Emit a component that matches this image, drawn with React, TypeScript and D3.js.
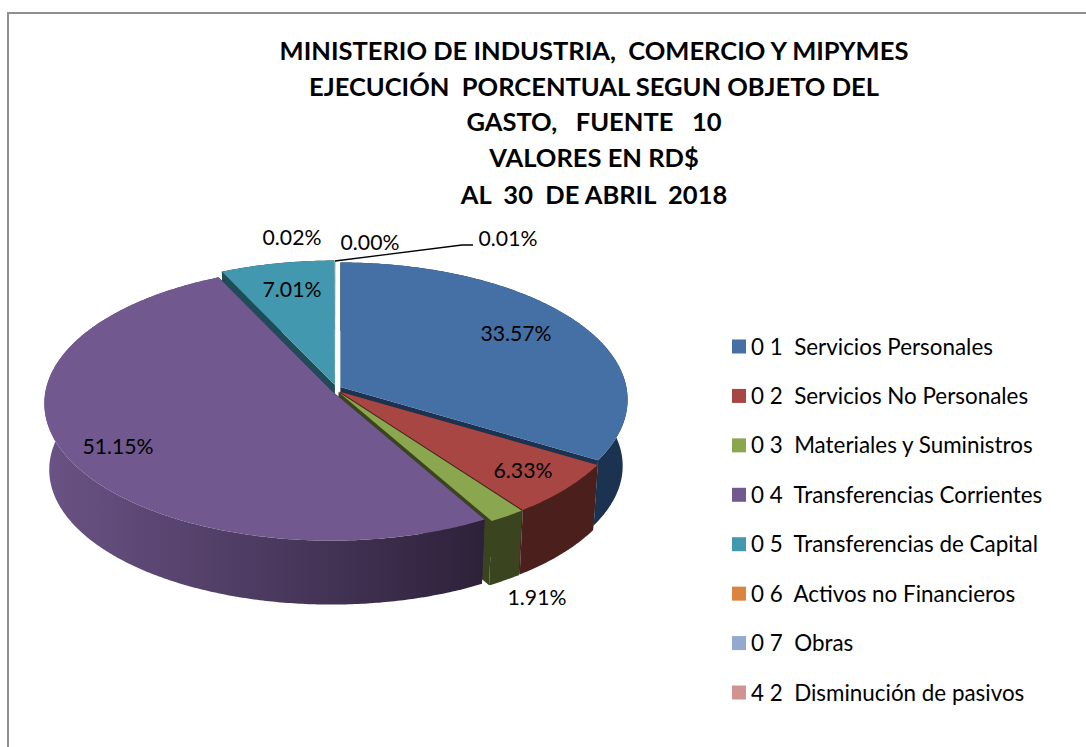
import React from "react";
import * as d3 from "d3";

const titleLines = [
  "MINISTERIO DE INDUSTRIA,  COMERCIO Y MIPYMES",
  "EJECUCIÓN  PORCENTUAL SEGUN OBJETO DEL",
  "GASTO,   FUENTE   10",
  "VALORES EN RD$",
  "AL  30  DE ABRIL  2018",
];
const categories = [
  "0 1  Servicios Personales",
  "0 2  Servicios No Personales",
  "0 3  Materiales y Suministros",
  "0 4  Transferencias Corrientes",
  "0 5  Transferencias de Capital",
  "0 6  Activos no Financieros",
  "0 7  Obras",
  "4 2  Disminución de pasivos",
];
const values = [33.57, 6.33, 1.91, 51.15, 7.01, 0.02, 0.0, 0.01];
const topColors = ["#4570a6", "#a84644", "#8aa64e", "#71588f", "#4198af", "#db843d", "#93a9cf", "#d19392"];
const wallColors = ["#1b3350", "#4a1f1c", "#3a451f", "url(#purpleWall)", "#1f4c58", "#6e421e", "#4a5568", "#694a49"];
const cutColors = ["#1b3350", "#4a1f1c", "#3a451f", "#2e2140", "#1f4c58", "#6e421e", "#4a5568", "#694a49"];
const drawOrder = [5, 6, 7, 4, 0, 1, 2, 3];

const labelTexts = ["33.57%", "6.33%", "1.91%", "51.15%", "7.01%", "0.02%", "0.00%", "0.01%"];
const labelPos: [number, number][] = [
  [516, 341], [523, 478], [537, 605], [118, 454], [292, 297], [292, 245], [370, 250], [508, 246],
];

const CX = 336, CY = 389, A = 286, B = 136, PERSP = 0.092;
const SHIFT_X = 5, SHIFT_Y = 4, DEPTH = 66.5, BOTTOM_SCALE = 0.983;

const arcs = d3.pie<number>().sort(null).startAngle(0).endAngle(2 * Math.PI)(values);

function project(theta: number, level: number, sx: number, sy: number, r = 1): [number, number] {
  const X = Math.sin(theta) * r, Y = Math.cos(theta) * r;
  const w = 1 + PERSP * Y;
  const s = level ? BOTTOM_SCALE : 1;
  return [CX + sx + (A * X * s) / w, CY + sy + (level ? DEPTH : 0) - (B * Y * s) / w];
}

const line = d3.line().curve(d3.curveLinear);

function angles(a0: number, a1: number) {
  const n = Math.max(2, Math.ceil((a1 - a0) / 0.01));
  return d3.range(n + 1).map((i) => a0 + ((a1 - a0) * i) / n);
}

function slicePaths(i: number) {
  const { startAngle: a0, endAngle: a1 } = arcs[i];
  const mid = (a0 + a1) / 2;
  const sx = SHIFT_X * Math.sin(mid), sy = -SHIFT_Y * Math.cos(mid);
  const th = angles(a0, a1);
  const topArc = th.map((t) => project(t, 0, sx, sy));
  const botArc = th.map((t) => project(t, 1, sx, sy)).reverse();
  const vTop = project(0, 0, sx, sy, 0), vBot = project(0, 1, sx, sy, 0);
  return {
    top: line([vTop, ...topArc])! + "Z",
    wall: line([...topArc, ...botArc])! + "Z",
    cut0: line([vTop, topArc[0], botArc[botArc.length - 1], vBot])! + "Z",
    cut1: line([vTop, topArc[topArc.length - 1], botArc[0], vBot])! + "Z",
  };
}

const legendY = d3.scalePoint<string>().domain(categories).range([346.5, 692.5]);
const FONT = "Lato, Carlito, sans-serif";

export default function App() {
  return (
    <svg width={1086} height={747} style={{ position: "absolute", left: 0, top: 0, background: "#fff" }}>
      <defs>
        <linearGradient id="purpleWall" gradientUnits="userSpaceOnUse" x1={44} x2={485} y1={0} y2={0}>
          <stop offset="0" stopColor="#6a5385" />
          <stop offset="0.5" stopColor="#4c3a60" />
          <stop offset="1" stopColor="#2d2139" />
        </linearGradient>
      </defs>
      <path d="M8 747V13H1086" fill="none" stroke="#8f8f8f" strokeWidth={2} />
      {titleLines.map((t, i) => (
        <text key={i} x={594} y={[60, 96, 131, 167, 204][i]} textAnchor="middle" fontFamily={FONT}
          fontWeight={700} fontSize={25.5} fill="#000" style={{ whiteSpace: "pre" }}>{t}</text>
      ))}
      {drawOrder.map((i) => {
        const p = slicePaths(i);
        const solid = values[i] >= 0.5;
        return (
          <g key={i}>
            {solid && <path d={p.cut0} fill={cutColors[i]} />}
            {solid && <path d={p.cut1} fill={cutColors[i]} />}
            {solid && <path d={p.wall} fill={wallColors[i]} />}
            <path d={p.top} fill={topColors[i]} />
          </g>
        );
      })}
      <polyline points="335,261 462,245 473,245" fill="none" stroke="#000" strokeWidth={1.3} />
      {labelTexts.map((t, i) => (
        <text key={i} x={labelPos[i][0]} y={labelPos[i][1]} textAnchor="middle" fontFamily={FONT}
          fontSize={21.2} fill="#000">{t}</text>
      ))}
      {categories.map((c, i) => (
        <g key={c}>
          <rect x={732} y={legendY(c)! - 7} width={14} height={14} fill={topColors[i]} />
          <text x={751} y={legendY(c)! + 8} fontFamily={FONT} fontSize={22.4} fill="#000"
            style={{ whiteSpace: "pre" }}>{c}</text>
        </g>
      ))}
    </svg>
  );
}
